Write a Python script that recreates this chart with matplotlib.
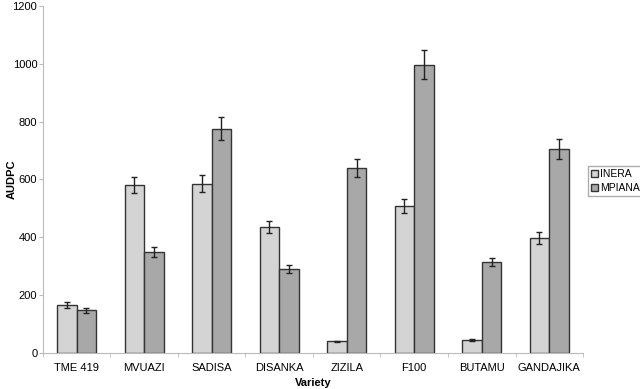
import numpy as np
import matplotlib.pyplot as plt

varieties = ["TME 419", "MVUAZI", "SADISA", "DISANKA", "ZIZILA", "F100", "BUTAMU", "GANDAJIKA"]
inera = [165, 580, 585, 435, 40, 508, 45, 397]
inera_err = [10, 28, 30, 20, 3, 25, 3, 20]
mpiana = [148, 350, 775, 290, 640, 997, 315, 705]
mpiana_err = [8, 18, 40, 15, 32, 50, 15, 35]

plt.rcParams.update({
    "font.family": "Liberation Sans",
    "font.size": 8,
})

fig = plt.figure(figsize=(6.4, 3.89), dpi=100)
ax = fig.add_axes([0.067, 0.0925, 0.844, 0.8925])

x = np.arange(len(varieties))
w = 0.29
ekw = dict(ecolor="#222222", elinewidth=1.0, capsize=2.5, capthick=1.0)
b1 = ax.bar(x - w / 2, inera, w, yerr=inera_err, color="#d4d4d4", edgecolor="#333333",
            linewidth=1.0, label="INERA", error_kw=ekw)
b2 = ax.bar(x + w / 2, mpiana, w, yerr=mpiana_err, color="#a8a8a8", edgecolor="#333333",
            linewidth=1.0, label="MPIANA", error_kw=ekw)

ax.set_xlim(-0.5, len(varieties) - 0.5)
ax.set_ylim(0, 1200)
ax.set_yticks(range(0, 1201, 200))
ax.set_xticks(x)
ax.set_xticklabels(varieties)
ax.set_xticks(np.arange(-0.5, len(varieties), 1), minor=True)
ax.tick_params(axis="x", which="major", length=0, pad=7)
ax.tick_params(axis="x", which="minor", length=3, color="#bbbbbb")
ax.tick_params(axis="y", length=3, color="#bbbbbb", pad=1)

for s in ["top", "right"]:
    ax.spines[s].set_visible(False)
for s in ["left", "bottom"]:
    ax.spines[s].set_color("#bbbbbb")

ax.set_ylabel("AUDPC", fontweight="bold")
ax.yaxis.set_label_coords(-0.048, 0.5)
ax.set_xlabel("Variety", fontweight="bold", labelpad=4)

fig.legend(handles=[b1, b2], loc="upper left", bbox_to_anchor=(0.919, 0.572),
           frameon=True, fancybox=False, edgecolor="#999999", handlelength=0.7,
           handleheight=0.7, handletextpad=0.2, borderpad=0.25, labelspacing=0.4,
           borderaxespad=0, fontsize=7.5)

fig.savefig("out.png", dpi=100)
